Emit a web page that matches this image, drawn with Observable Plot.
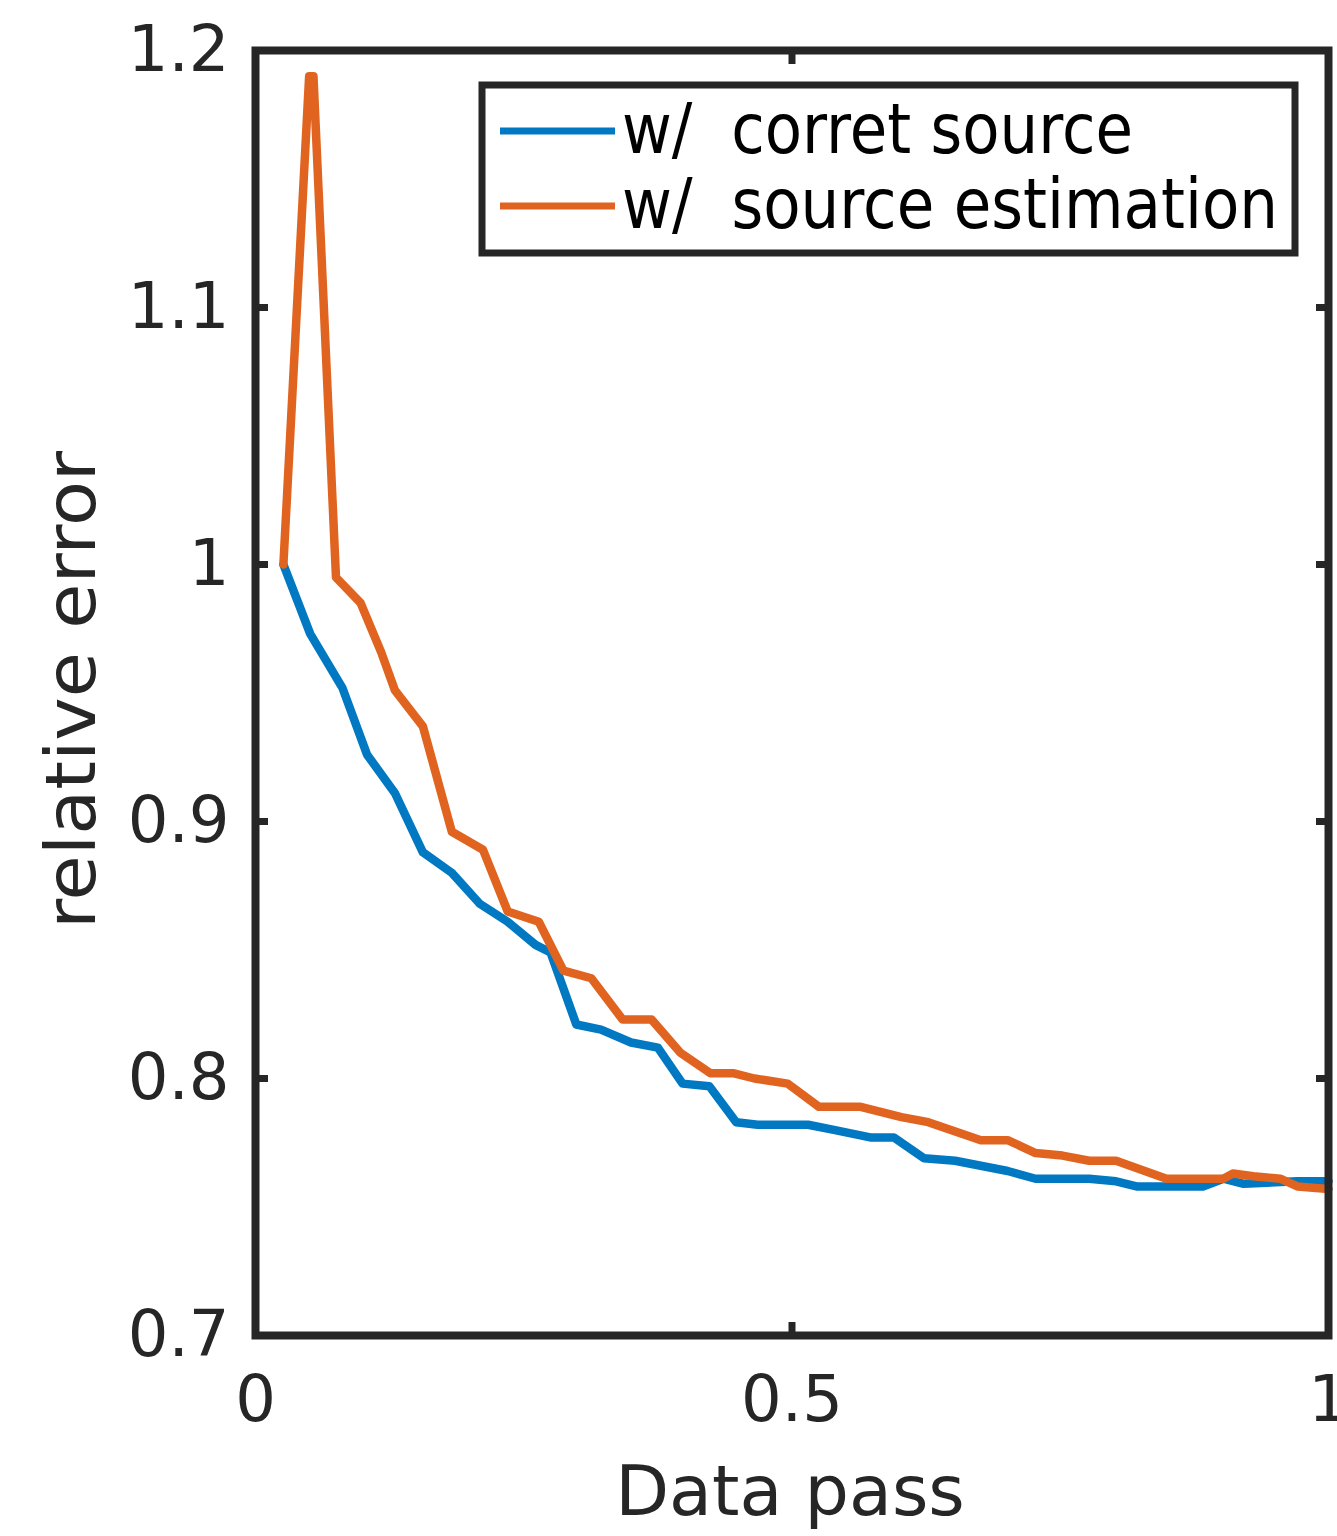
<!DOCTYPE html>
<html><head><meta charset="utf-8">
<script src="https://cdn.jsdelivr.net/npm/d3@7"></script>
<script src="https://cdn.jsdelivr.net/npm/@observablehq/plot@0.6"></script>
<style>
body{margin:0;overflow:hidden;background:#fff;}
#chart{position:relative;width:1337px;height:1536px;}
</style>
</head><body><div id="chart"></div>
<script>
// ---- data ----
const seriesNames = ["w/  corret source", "w/  source estimation"];
const seriesColors = ["#0079C2", "#E0641F"];

const correctX = [0.026, 0.051, 0.081, 0.104, 0.130, 0.156, 0.183, 0.209, 0.235, 0.261, 0.275, 0.299, 0.322, 0.350, 0.375, 0.398, 0.423, 0.448, 0.468, 0.515, 0.539, 0.574, 0.595, 0.623, 0.652, 0.701, 0.727, 0.777, 0.802, 0.821, 0.883, 0.902, 0.921, 0.971, 1.0];
const correctY = [1.0, 0.973, 0.952, 0.926, 0.911, 0.888, 0.880, 0.868, 0.861, 0.852, 0.849, 0.821, 0.819, 0.814, 0.812, 0.798, 0.797, 0.783, 0.782, 0.782, 0.780, 0.777, 0.777, 0.769, 0.768, 0.764, 0.761, 0.761, 0.760, 0.758, 0.758, 0.761, 0.759, 0.760, 0.760];

const estX = [0.026, 0.050, 0.054, 0.075, 0.098, 0.117, 0.130, 0.156, 0.183, 0.212, 0.235, 0.264, 0.287, 0.313, 0.342, 0.369, 0.396, 0.424, 0.446, 0.465, 0.496, 0.525, 0.564, 0.602, 0.627, 0.676, 0.701, 0.727, 0.752, 0.777, 0.802, 0.849, 0.902, 0.911, 0.930, 0.955, 0.971, 1.0];
const estY = [1.0, 1.19, 1.19, 0.995, 0.985, 0.966, 0.951, 0.937, 0.896, 0.889, 0.865, 0.861, 0.842, 0.839, 0.823, 0.823, 0.810, 0.802, 0.802, 0.800, 0.798, 0.789, 0.789, 0.785, 0.783, 0.776, 0.776, 0.771, 0.770, 0.768, 0.768, 0.761, 0.761, 0.763, 0.762, 0.761, 0.758, 0.757];

const xTicks = [0, 0.5, 1];
const xTickLabels = ["0", "0.5", "1"];
const yTicks = [0.7, 0.8, 0.9, 1.0, 1.1, 1.2];
const yTickLabels = ["0.7", "0.8", "0.9", "1", "1.1", "1.2"];
const xLabel = "Data pass";
const yLabel = "relative error";

// ---- build table ----
const rows = [
  ...correctX.map((x, i) => ({series: seriesNames[0], x, y: correctY[i]})),
  ...estX.map((x, i) => ({series: seriesNames[1], x, y: estY[i]}))
];

const ink = "#262626";
const fmtX = d => xTickLabels[xTicks.indexOf(d)];
const fmtY = d => yTickLabels[yTicks.indexOf(d)];

const plot = Plot.plot({
  width: 1337, height: 1536,
  marginLeft: 255, marginRight: 9, marginTop: 50, marginBottom: 201,
  style: {fontFamily: "DejaVu Sans", fontSize: "64px", color: ink, background: "white", overflow: "visible"},
  x: {domain: [0, 1]},
  y: {domain: [0.7, 1.2]},
  color: {domain: seriesNames, range: seriesColors},
  marks: [
    Plot.line(rows, {x: "x", y: "y", z: "series", stroke: "series", strokeWidth: 8.5, strokeLinejoin: "round"}),
    Plot.frame({stroke: ink, strokeWidth: 8}),
    Plot.axisY({ticks: yTicks, anchor: "left", tickSize: -13, tickPadding: 39, strokeWidth: 7, tickFormat: fmtY, label: null, fill: ink}),
    Plot.axisY({ticks: yTicks, anchor: "right", tickSize: -13, strokeWidth: 7, tickFormat: () => "", label: null}),
    Plot.axisX({ticks: xTicks, anchor: "bottom", tickSize: -13, tickPadding: 53, strokeWidth: 7, tickFormat: fmtX, label: null, fill: ink}),
    Plot.axisX({ticks: xTicks, anchor: "top", tickSize: -13, strokeWidth: 7, tickFormat: () => "", label: null})
  ]
});

document.getElementById("chart").appendChild(plot);

const svg = d3.select(plot);
// axis titles
svg.append("text")
  .attr("x", 790).attr("y", 1515)
  .attr("text-anchor", "middle")
  .attr("font-family", "DejaVu Sans").attr("font-size", 70)
  .attr("fill", ink)
  .text(xLabel);
svg.append("text")
  .attr("transform", "translate(95,690) rotate(-90)")
  .attr("text-anchor", "middle")
  .attr("font-family", "DejaVu Sans").attr("font-size", 70)
  .attr("textLength", 478).attr("lengthAdjust", "spacingAndGlyphs")
  .attr("fill", ink)
  .text(yLabel);

// legend
const lg = svg.append("g").attr("text-anchor", "start");
lg.append("rect").attr("x", 482).attr("y", 85).attr("width", 813).attr("height", 168)
  .attr("fill", "white").attr("stroke", ink).attr("stroke-width", 7);
const legendRows = [{y: 131, w: 511}, {y: 206, w: 656}];
seriesNames.forEach((name, i) => {
  lg.append("line").attr("x1", 500).attr("x2", 615)
    .attr("y1", legendRows[i].y).attr("y2", legendRows[i].y)
    .attr("stroke", seriesColors[i]).attr("stroke-width", 7);
  lg.append("text").attr("x", 622).attr("y", legendRows[i].y + 22)
    .attr("text-anchor", "start")
    .attr("font-family", "DejaVu Sans").attr("font-size", 70)
    .attr("textLength", legendRows[i].w).attr("lengthAdjust", "spacingAndGlyphs")
    .style("white-space", "pre")
    .attr("fill", "#000")
    .text(name);
});
</script>
</body></html>
